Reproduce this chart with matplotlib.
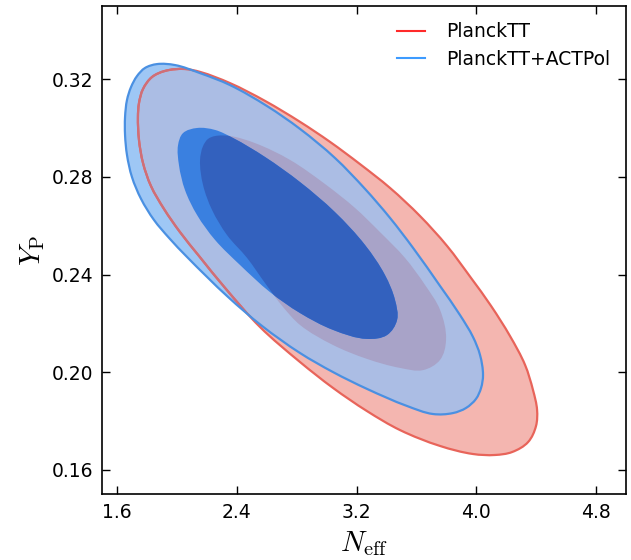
import numpy as np
import matplotlib
matplotlib.use("Agg")
import matplotlib.pyplot as plt
from matplotlib.path import Path
from matplotlib.patches import PathPatch

plt.rcParams['mathtext.fontset'] = 'cm'
plt.rcParams['font.family'] = ['DejaVu Sans']

# ---- data (contour boundaries) ----
planck_95_neff = [1.921, 2.054, 2.155, 2.355, 2.589, 2.823, 3.023, 3.223, 3.424, 3.624,
                  3.805, 3.965, 4.099, 4.225, 4.326, 4.379, 4.406, 4.399, 4.346, 4.239,
                  4.125, 3.978, 3.758, 3.491, 3.270, 3.043, 2.823, 2.555, 2.322, 2.148,
                  2.021, 1.914, 1.827, 1.774, 1.747, 1.740, 1.747, 1.774, 1.834]
planck_95_yp = [0.3235, 0.3243, 0.3231, 0.3185, 0.3112, 0.3026, 0.2944, 0.2853, 0.2755, 0.2640,
                0.2517, 0.2386, 0.2271, 0.2148, 0.2029, 0.1926, 0.1845, 0.1779, 0.1713, 0.1672,
                0.1660, 0.1664, 0.1697, 0.1762, 0.1840, 0.1935, 0.2041, 0.2185, 0.2345, 0.2476,
                0.2574, 0.2669, 0.2763, 0.2857, 0.2952, 0.3046, 0.3103, 0.3161, 0.3210]

planck_68_neff = [2.255, 2.355, 2.522, 2.756, 2.990, 3.190, 3.357, 3.524, 3.658, 3.758,
                  3.798, 3.758, 3.644, 3.491, 3.270, 3.043, 2.823, 2.709, 2.589, 2.469,
                  2.335, 2.235, 2.175, 2.155, 2.175, 2.208]
planck_68_yp = [0.2968, 0.2968, 0.2939, 0.2870, 0.2771, 0.2673, 0.2574, 0.2468, 0.2357, 0.2255,
                0.2132, 0.2050, 0.2008, 0.2017, 0.2054, 0.2111, 0.2193, 0.2267, 0.2365, 0.2468,
                0.2562, 0.2665, 0.2767, 0.2870, 0.2927, 0.2956]

act_95_neff = [1.867, 1.988, 2.155, 2.355, 2.602, 2.823, 3.056, 3.257, 3.424, 3.578,
               3.758, 3.891, 3.978, 4.025, 4.045, 4.032, 3.998, 3.932, 3.845, 3.711,
               3.537, 3.270, 3.043, 2.823, 2.569, 2.342, 2.068, 1.948, 1.847, 1.761,
               1.700, 1.667, 1.654, 1.654, 1.667, 1.694, 1.734, 1.787]
act_95_yp = [0.3263, 0.3259, 0.3226, 0.3177, 0.3091, 0.2997, 0.2878, 0.2751, 0.2632, 0.2509,
             0.2353, 0.2234, 0.2144, 0.2070, 0.1988, 0.1935, 0.1890, 0.1853, 0.1832, 0.1828,
             0.1861, 0.1931, 0.2000, 0.2078, 0.2189, 0.2308, 0.2472, 0.2550, 0.2624, 0.2710,
             0.2800, 0.2890, 0.2972, 0.3046, 0.3116, 0.3169, 0.3214, 0.3247]

act_68_neff = [2.135, 2.255, 2.375, 2.589, 2.823, 3.056, 3.257, 3.390, 3.457, 3.471,
               3.404, 3.270, 3.043, 2.823, 2.622, 2.422, 2.255, 2.135, 2.054, 2.014,
               2.008, 2.041]
act_68_yp = [0.3001, 0.2993, 0.2960, 0.2882, 0.2779, 0.2656, 0.2521, 0.2398, 0.2296, 0.2214,
             0.2152, 0.2136, 0.2173, 0.2242, 0.2328, 0.2439, 0.2542, 0.2644, 0.2747, 0.2849,
             0.2931, 0.2980]

labels = ["PlanckTT", "PlanckTT+ACTPol"]
xticks = [1.6, 2.4, 3.2, 4.0, 4.8]
yticks = [0.16, 0.20, 0.24, 0.28, 0.32]

XLIM = (1.5, 5.0)
YLIM = (0.15, 0.35)


def smooth_closed_path(xs, ys):
    """Closed cubic Bezier path through the points (tangents from unit-vector bisectors)."""
    sx = 1.0 / (XLIM[1] - XLIM[0])
    sy = (1.0 / (YLIM[1] - YLIM[0])) * (487.7 / 524)
    Q = np.column_stack([np.asarray(xs) * sx, np.asarray(ys) * sy])
    n = len(Q)
    T = []
    for i in range(n):
        a = Q[i] - Q[(i - 1) % n]
        b = Q[(i + 1) % n] - Q[i]
        t = a / np.linalg.norm(a) + b / np.linalg.norm(b)
        T.append(t / np.linalg.norm(t))
    T = np.array(T)
    verts = [Q[0]]
    codes = [Path.MOVETO]
    for i in range(n):
        j = (i + 1) % n
        d = np.linalg.norm(Q[j] - Q[i]) / 3.0
        verts += [Q[i] + T[i] * d, Q[j] - T[j] * d, Q[j]]
        codes += [Path.CURVE4] * 3
    verts.append(Q[0])
    codes.append(Path.CLOSEPOLY)
    V = np.array(verts)
    V[:, 0] /= sx
    V[:, 1] /= sy
    return Path(V, codes)


fig = plt.figure(figsize=(6.31, 5.6), dpi=100)
ax = fig.add_axes([102 / 631, 1 - 494 / 560, 524 / 631, 487.7 / 560])

p_r95 = smooth_closed_path(planck_95_neff, planck_95_yp)
p_r68 = smooth_closed_path(planck_68_neff, planck_68_yp)
p_b95 = smooth_closed_path(act_95_neff, act_95_yp)
p_b68 = smooth_closed_path(act_68_neff, act_68_yp)

# red outer
r95 = ax.add_patch(PathPatch(p_r95, facecolor='#f4b6b0', edgecolor='none', zorder=1))
# blue outer
b95 = ax.add_patch(PathPatch(p_b95, facecolor='#9ec7f5', edgecolor='none', zorder=2))
b95o = ax.add_patch(PathPatch(p_b95, facecolor='#abbde4', edgecolor='none', zorder=3))
b95o.set_clip_path(r95)
# red inner (seen through blue outer)
r68f = ax.add_patch(PathPatch(p_r68, facecolor='#a8a3c8', edgecolor='none', zorder=4))
# blue inner
b68 = ax.add_patch(PathPatch(p_b68, facecolor='#3a80e0', edgecolor='none', zorder=5))
b68o = ax.add_patch(PathPatch(p_b68, facecolor='#3361be', edgecolor='none', zorder=6))
b68o.set_clip_path(r68f)
# edges
ax.add_patch(PathPatch(p_r95, facecolor='none', edgecolor='#e8645a', lw=1.6, zorder=7))
rin = ax.add_patch(PathPatch(p_r95, facecolor='none', edgecolor='#cf6f78', lw=1.6, zorder=8))
rin.set_clip_path(b95)
ax.add_patch(PathPatch(p_b95, facecolor='none', edgecolor='#4a90e2', lw=1.6, zorder=9))

# legend handles
ax.plot([], [], color='#ff2a2a', lw=1.5, label=labels[0])
ax.plot([], [], color='#3d9bff', lw=1.5, label=labels[1])
ax.legend(loc='upper right', frameon=False, fontsize=13.5, handlelength=1.5,
          handletextpad=1.1, labelspacing=0.45, borderaxespad=0.45)

ax.set_xlim(*XLIM)
ax.set_ylim(*YLIM)
ax.set_xticks(xticks)
ax.set_xticklabels([f"{v:.1f}" for v in xticks])
ax.set_yticks(yticks)
ax.set_yticklabels([f"{v:.2f}" for v in yticks])
ax.tick_params(direction='in', top=True, right=True, length=5.5, width=1.0,
               labelsize=13.5, pad=6.5)
for s in ax.spines.values():
    s.set_linewidth(1.2)

ax.set_xlabel(r'$N_{\rm eff}$', fontsize=21, labelpad=5)
ax.set_ylabel(r'$Y_{\rm P}$', fontsize=21, labelpad=3)

fig.savefig('out.png', dpi=100)
